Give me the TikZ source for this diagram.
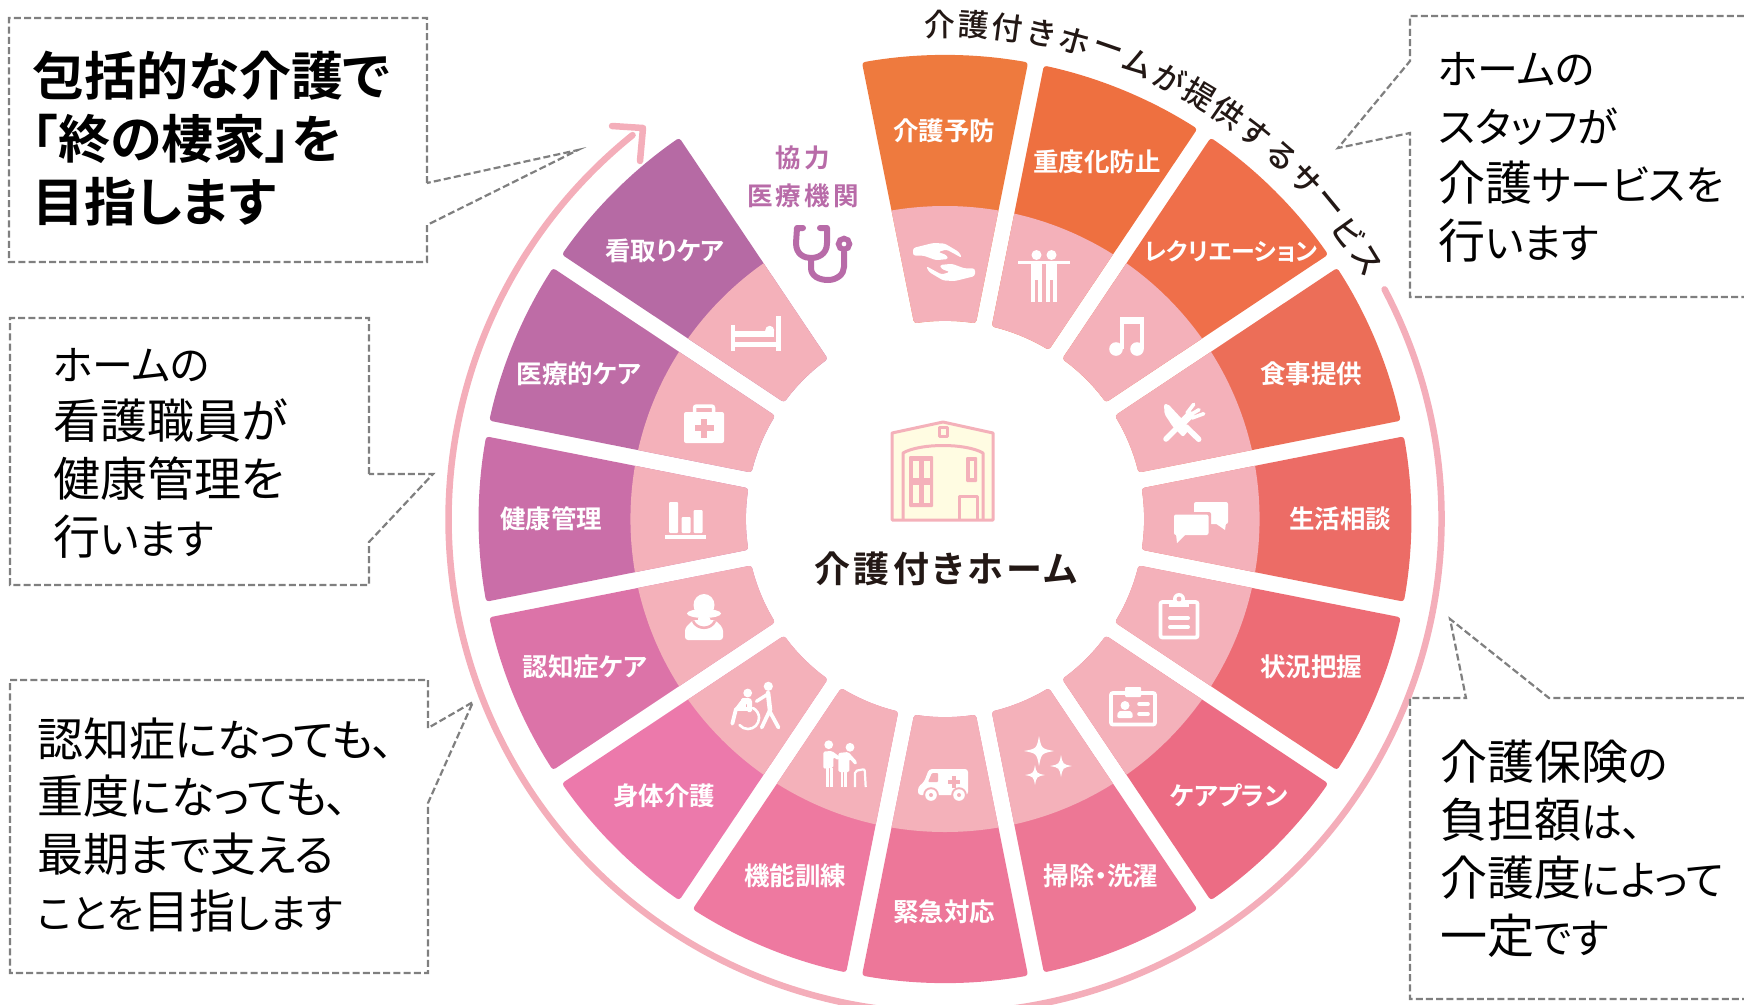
\documentclass[tikz,border=0pt]{standalone}
\usepackage{fontspec}
\setmainfont{Noto Sans CJK JP}
\newfontfamily\cjkpalt[RawFeature=+palt,BoldFont={Noto Sans CJK JP Bold}]{Noto Sans CJK JP}
\newfontfamily\cjkbold[RawFeature=+palt]{Noto Sans CJK JP Bold}
\newfontfamily\cjkmed[RawFeature=+palt]{Noto Sans CJK JP Medium}
\newcommand{\kj}[1]{{\fontsize{47}{58}\selectfont #1}}
\newcommand{\kjs}[1]{{\fontsize{46}{58}\selectfont #1}}
\newcommand{\kn}[1]{{\fontsize{44}{58}\selectfont #1}}
\definecolor{pinkring}{HTML}{F4AEBA}
\definecolor{pinkin}{HTML}{F4B1BA}
\definecolor{cream}{HTML}{FFFCE2}
\definecolor{dashgray}{HTML}{7F7F7F}
\definecolor{inkdark}{HTML}{231815}
\definecolor{purp}{HTML}{B86BA8}
\definecolor{sa}{HTML}{EE7A3E}\definecolor{sb}{HTML}{EE7040}\definecolor{sc}{HTML}{EF6F4A}
\definecolor{sd}{HTML}{EC6E58}\definecolor{se}{HTML}{EC6C66}\definecolor{sf}{HTML}{ED6C75}
\definecolor{sg}{HTML}{EC6C84}\definecolor{sh}{HTML}{ED7795}\definecolor{si}{HTML}{ED7799}
\definecolor{sj}{HTML}{EE79A0}\definecolor{sk}{HTML}{EC79AB}\definecolor{sl}{HTML}{DC73A8}
\definecolor{sm}{HTML}{CA6EA8}\definecolor{sn}{HTML}{BE6CA6}\definecolor{so}{HTML}{B66AA4}
\tikzset{
  callout/.style={draw=dashgray,line width=2.2pt,dash pattern=on 7pt off 3.2pt},
  calltext/.style={anchor=west,align=left,inner sep=0pt,text=black,font=\cjkpalt\fontsize{41}{58}\selectfont},
  seglabel/.style={text=white,inner sep=0pt,font=\cjkbold\fontsize{25.5}{28}\selectfont},
  arcchar/.style={text=inkdark,inner sep=0pt,font=\cjkmed\fontsize{31}{32}\selectfont},
  wl/.style={draw=white,line cap=round,line join=round},
  icon/.style={shift={(#1)},y=1pt},
  bld/.style={draw=pinkin,line width=3pt,line join=round}
}
\newcommand{\sparkstar}[3]{\fill[white] (#1,#2+#3) .. controls (#1+.16*#3,#2+.16*#3) .. (#1+#3,#2) .. controls (#1+.16*#3,#2-.16*#3) .. (#1,#2-#3) .. controls (#1-.16*#3,#2-.16*#3) .. (#1-#3,#2) .. controls (#1-.16*#3,#2+.16*#3) .. cycle;}
\begin{document}
\begin{tikzpicture}[x=1pt,y=-1pt]
\useasboundingbox (0,0) rectangle (1744,1004);
\clip (0,0) rectangle (1744,1004);

% ---- outer arrow ring
\begin{scope}[shift={(945,519)},y=1pt,xscale=1.005]
  \draw[pinkring,line width=6.5pt,line cap=round] (27.7:494) arc[start angle=27.7,end angle=-231,radius=494];
\end{scope}
\coordinate (tipA) at (643,128);
\coordinate (headA) at (612,126);
\coordinate (headB) at (640,161);
\draw[pinkring,line width=6.5pt,line cap=round,line join=round] (headA) -- (tipA) -- (headB);

% ---- wheel segments
\begin{scope}[shift={(945,519)},y=1pt,xscale=1.005]
\pgfmathsetmacro\dO{11.25-asin(8/464)}
\pgfmathsetmacro\dI{11.25-asin(8/198)}
\foreach \a/\c in {90/sa,67.5/sb,45/sc,22.5/sd,0/se,-22.5/sf,-45/sg,-67.5/sh,-90/si,-112.5/sj,-135/sk,-157.5/sl,-180/sm,-202.5/sn,-225/so}{
  \pgfmathsetmacro\aa{\a+\dO}\pgfmathsetmacro\ab{\a-\dO}
  \pgfmathsetmacro\ac{\a-\dI}\pgfmathsetmacro\ad{\a+\dI}
  \def\segpath{[rounded corners=3pt] (\aa:464) arc[start angle=\aa,end angle=\ab,radius=464] -- (\ac:198) arc[start angle=\ac,end angle=\ad,radius=198] -- cycle}
  \fill[\c] \segpath;
  \begin{scope}
    \clip \segpath;
    \fill[pinkin] (0,0) circle[radius=313];
  \end{scope}
}
\end{scope}

% ---- segment labels
\node[seglabel] (l1) at (944,131) {介護予防};
\node[seglabel] (l2) at (1097,162) {重度化防止};
\node[seglabel,font=\cjkbold\fontsize{24}{28}\selectfont] (l3) at (1231,251) {レクリエーション};
\node[seglabel] (l4) at (1311,374) {食事提供};
\node[seglabel] (l5) at (1340,519) {生活相談};
\node[seglabel] (l6) at (1311,667) {状況把握};
\node[seglabel] (l7) at (1229,795) {ケアプラン};
\node[seglabel] (l8) at (1101,876) {掃除・洗濯};
\node[seglabel] (l9) at (944,912) {緊急対応};
\node[seglabel] (l10) at (795,876) {機能訓練};
\node[seglabel] (l11) at (664,796) {身体介護};
\node[seglabel] (l12) at (585,667) {認知症ケア};
\node[seglabel] (l13) at (551,519) {健康管理};
\node[seglabel] (l14) at (579,374) {医療的ケア};
\node[seglabel] (l15) at (665,251) {看取りケア};

% ---- arc title
\begin{scope}[shift={(945,519)},y=1pt]
\foreach \ch [count=\i from 0] in {介,護,付,き,ホ,ー,ム,が,提,供,す,る,サ,ー,ビ,ス}{
  \pgfmathsetmacro\th{90.6-3.94*\i}
  \pgfmathsetmacro\rt{\th-90}
  \node[arcchar,rotate=\rt] (t\i) at (\th:495) {\ch};
}
\end{scope}

% ---- icons
% hands
\begin{scope}[icon={944,262}]
  \foreach \r in {0,180}{
  \begin{scope}[rotate=\r]
  \fill[white,rounded corners=2.5pt] (-31,14) -- (-31,6.4) -- (-20.5,6.4) -- (-8,1.8) -- (4.3,3) -- (2.5,7) -- (-6,10) -- (2.5,12.5) -- (18,4) -- (15,10) -- (0.7,18.5) -- (-11,19) -- cycle;
  \end{scope}}
\end{scope}
% people
\begin{scope}[icon={1044,278}]
  \fill[white] (-7.5,23) circle[radius=5];
  \fill[white] (7.5,23) circle[radius=5];
  \fill[white] (-26,17) rectangle (26,14);
  \fill[white] (-13,15) rectangle (-2,-2);
  \fill[white] (2,15) rectangle (13,-2);
  \fill[white] (-13,-2) rectangle (-8.7,-24);
  \fill[white] (-6.3,-2) rectangle (-2,-24);
  \fill[white] (2,-2) rectangle (6.3,-24);
  \fill[white] (8.7,-2) rectangle (13,-24);
\end{scope}
% music
\begin{scope}[icon={1127,336}]
  \fill[white] (-11,-13) circle[radius=6.8];
  \fill[white] (10,-13) circle[radius=6.8];
  \fill[white] (-7.5,-13) rectangle (-3.5,19);
  \fill[white] (13,-13) rectangle (17,19);
  \fill[white] (-7.5,19) rectangle (17,12);
\end{scope}
% cutlery
\begin{scope}[icon={1184,422}]
  \fill[white,rounded corners=2pt] (-20,18) -- (-16,18) -- (0.7,0) -- (5,-8) -- (-1,-15) -- (-11,-5) -- (-19.5,8) -- cycle;
  \draw[wl,line width=5.5pt] (2.3,-5) -- (14.7,-17.3);
  \draw[wl,line width=5.5pt] (-18,-17) -- (-1,0);
  \draw[wl,line width=8pt] (-1,0) -- (6,7);
  \draw[wl,line width=3.6pt] (3,9) -- (9.7,17.7) (6,7) -- (15,12.3) (8,4) -- (19.7,8.3);
\end{scope}
% chat
\begin{scope}[icon={1201,520}]
  \fill[white,rounded corners=2pt] (-7,18) rectangle (27,-4);
  \fill[white] (14,-3) -- (24,-10) -- (25,-3) -- cycle;
  \fill[pinkin,rounded corners=2pt] (-30,8) rectangle (10,-18);
  \fill[white,rounded corners=2pt] (-27,5.5) rectangle (7.5,-15);
  \fill[white] (-25,-14) -- (-24,-23) -- (-15,-14) -- cycle;
\end{scope}
% clipboard
\begin{scope}[icon={1179,617}]
  \draw[white,line width=3.8pt,rounded corners=2pt] (-18.5,15) rectangle (18.5,-20.5);
  \fill[white] (-10,17) rectangle (10,10);
  \fill[white] (0,18) circle[radius=6];
  \fill[pinkin] (0,18) circle[radius=2.4];
  \draw[wl,line width=4pt] (-9,-1) -- (9,-1) (-9,-10) -- (9,-10);
\end{scope}
% id card
\begin{scope}[icon={1133,707}]
  \draw[white,line width=3.8pt,rounded corners=2pt] (-22,14) rectangle (22,-17.5);
  \fill[white,rounded corners=1pt] (-8,20) rectangle (8,10);
  \fill[white] (-8,1.5) circle[radius=4.5];
  \fill[white,rounded corners=2pt] (-16,-11) -- (-15,-4) -- (-1,-4) -- (0,-11) -- cycle;
  \draw[wl,line width=3.6pt] (6,3) -- (15,3) (6,-7) -- (15,-7);
\end{scope}
% sparkles
\begin{scope}[icon={1048,761}]
  \sparkstar{-9}{10}{15}
  \sparkstar{13}{-5}{11}
  \sparkstar{-13}{-14}{10}
\end{scope}
% ambulance
\begin{scope}[icon={944,784}]
  \fill[white,rounded corners=3pt] (-26,-11) -- (-26,-3) -- (-20,2) -- (-15,15) -- (24,15) -- (24,-11) -- cycle;
  \fill[pinkin,rounded corners=1pt] (-16,2) -- (-12,11) -- (-6,11) -- (-6,2) -- cycle;
  \fill[pinkin] (4,0) rectangle (16,4);
  \fill[pinkin] (8,-4) rectangle (12,8);
  \foreach \wx in {-13,15}{
    \fill[pinkin] (\wx,-11) circle[radius=7.8];
    \fill[white] (\wx,-11) circle[radius=5.8];
    \fill[pinkin] (\wx,-11) circle[radius=2];
  }
\end{scope}
% walker pair
\begin{scope}[icon={844,764}]
  \fill[white] (-15.3,19.3) circle[radius=4.4];
  \fill[white] (6,16.7) circle[radius=4.4];
  \fill[white,rounded corners=1.5pt] (-20.7,12.5) -- (-12,13) -- (-4,7) -- (-5.7,3.7) -- (-10.7,7) -- (-10.7,-3.7) -- (-20.7,-4.7) -- cycle;
  \fill[white] (-18.5,-4) rectangle (-15.2,-23);
  \fill[white] (-14.2,-4) rectangle (-11,-23);
  \fill[white,rounded corners=1.5pt] (-5.7,11) -- (4.3,12) -- (13.3,2) -- (11.7,-1.3) -- (5.3,5.3) -- (5.3,-8) -- (-5.7,-8) -- cycle;
  \fill[white] (-3.5,-8) rectangle (-0.7,-23);
  \fill[white] (0,-8) rectangle (2.7,-23);
  \draw[white,line width=2.2pt,rounded corners=2pt] (11,-23) -- (11,-7) -- (20.7,-5) -- (21.7,-23);
\end{scope}
% wheelchair
\begin{scope}[icon={755,706}]
  \fill[white] (-7.3,13) circle[radius=4.4];
  \fill[white] (13.3,19.7) circle[radius=4.6];
  \draw[wl,line width=2.6pt] (4,-12) arc[start angle=0,end angle=-140,radius=11];
  \draw[wl,line width=2.6pt] (-2,-2) arc[start angle=62,end angle=0,radius=11.5];
  \fill[white,rounded corners=1.5pt] (-14,8) -- (-5,8) -- (-3,6) -- (-3,-6) -- (-8,-6) -- (-8,3) -- (-14,3) -- cycle;
  \draw[wl,line width=3.8pt] (-22.7,-17.7) -- (-19,-3) -- (-6,-3);
  \draw[wl,line width=1pt,fill=white] (-20,-3) -- (-14,5) -- (-9,5) -- (-10,-3) -- cycle;
  \draw[wl,line width=4.6pt] (13,13) -- (15,-4);
  \draw[wl,line width=3.4pt] (13,12) -- (1.5,4.7);
  \draw[wl,line width=3.8pt] (14.5,-5) -- (6.7,-21.5) (14.5,-5) -- (23.5,-21.5);
\end{scope}
% woman
\begin{scope}[icon={704,617}]
  \fill[white] (0,12) ellipse[x radius=10.5,y radius=11];
  \fill[white] (0,3.5) ellipse[x radius=17,y radius=4.5];
  \fill[white,rounded corners=3pt] (-19,-23) -- (-19,-11) -- (-11,-3) -- (11,-3) -- (19,-11) -- (19,-23) -- cycle;
  \draw[pinkin,line width=2.6pt] (-11,-4) .. controls (-7,-13) and (7,-13) .. (11,-4);
  \fill[white] (0,-3) ellipse[x radius=6.5,y radius=4];
  \fill[pinkin] (-10,-1) rectangle (-6.5,-3.2);
  \fill[pinkin] (6.5,-1) rectangle (10,-3.2);
\end{scope}
% chart
\begin{scope}[icon={685,520}]
  \fill[white,rounded corners=1pt] (-16,18) rectangle (-7,-13);
  \fill[white,rounded corners=1pt] (-3.5,3) rectangle (5.5,-13);
  \fill[white,rounded corners=1pt] (8.5,10) rectangle (17.5,-13);
  \fill[white] (-20.5,-15) rectangle (20.5,-18.5);
\end{scope}
% medkit
\begin{scope}[icon={704,423}]
  \fill[white,rounded corners=2pt] (-20,11) rectangle (20,-20);
  \draw[white,line width=3.5pt,rounded corners=2pt] (-9.5,11) -- (-9.5,17) -- (9.5,17) -- (9.5,11);
  \fill[pinkin] (-9.5,-2) rectangle (9.5,-8);
  \fill[pinkin] (-3,-14.5) rectangle (3,4.5);
\end{scope}
% bed
\begin{scope}[icon={756,334}]
  \fill[white] (-25,9) rectangle (-20.6,-17);
  \fill[white] (20,18) rectangle (25,-17);
  \fill[white] (-25,-8.3) rectangle (25,-13);
  \fill[white] (-20.6,3.2) rectangle (18,-3);
  \fill[white] (13.7,3.7) circle[radius=4.5];
\end{scope}
% stethoscope
\begin{scope}[icon={823,253}]
  \draw[purp,line width=6pt,line cap=round,line join=round]
    (-20,25) -- (-26,25) -- (-27,10) .. controls (-27,-2) and (-18,-5) .. (-12,-5) .. controls (-6,-5) and (4,-2) .. (4,10) -- (4,25) -- (-3,25);
  \draw[purp,line width=6pt,line cap=round] (-12,-5) -- (-12,-15) .. controls (-12,-23) and (-4,-27) .. (5,-27) .. controls (14,-27) and (21,-21) .. (21,-14) -- (21,1);
  \draw[purp,line width=5.5pt,fill=white] (21,9) circle[radius=5.5];
\end{scope}

\node[text=purp,inner sep=0pt,font=\cjkbold\addfontfeature{LetterSpace=12}\fontsize{25.5}{28}\selectfont] (coop1) at (803,158) {協力};
\node[text=purp,inner sep=0pt,font=\cjkbold\addfontfeature{LetterSpace=12}\fontsize{25.5}{28}\selectfont] (coop2) at (803,196) {医療機関};

% ---- building
\path[bld,fill=cream] (892,520) -- (892,433) -- (943,422) -- (993,433) -- (993,520) -- cycle;
\draw[bld] (903,520) -- (903,453) .. controls (920,443) and (966,443) .. (983,453) -- (983,520);
\draw[bld] (939,427) rectangle (947,436);
\fill[pinkin,rounded corners=1pt] (909,456) rectangle (933,507);
\fill[cream] (913,460.5) rectangle (919,478);
\fill[cream] (923.5,460.5) rectangle (929.5,478);
\fill[cream] (913,485) rectangle (919,503);
\fill[cream] (923.5,485) rectangle (929.5,503);
\fill[pinkin,rounded corners=1pt] (966,457) rectangle (977,482);
\fill[cream] (969.5,460.5) rectangle (973.5,478);
\draw[bld] (959,520) -- (959,496) -- (977,496) -- (977,520);
\node[text=inkdark,inner sep=0pt,font=\cjkbold\addfontfeature{LetterSpace=10}\fontsize{36}{38}\selectfont] (hub) at (946,569) {介護付きホーム};

% ---- callouts
\draw[callout] (427,183) -- (427,18) -- (9,18) -- (9,262) -- (427,262) -- (427,225) -- (578,150) -- cycle;
\node[calltext,font=\cjkpalt\bfseries\fontsize{52}{63}\selectfont] (c1) at (32,139) {包括的な介護で\\「終の棲家」を\\目指します};

\draw[callout] (1744,16) -- (1410,16) -- (1410,61) -- (1338,148) -- (1410,133) -- (1410,297) -- (1744,297);
\node[calltext] (c2) at (1438,157) {ホームの\\スタッフが\\\kj{介護}サービスを\\\kj{行}います};

\draw[callout] (369,474) -- (369,318) -- (10,318) -- (10,585) -- (369,585) -- (369,542) -- (433,474) -- cycle;
\node[calltext] (c3) at (53,453) {ホームの\\\kj{看護職員が}\\\kj{健康管理を}\\\kj{行}います};

\draw[callout] (428,728) -- (428,680) -- (10,680) -- (10,973) -- (428,973) -- (428,803) -- (473,702) -- cycle;
\node[calltext,font=\cjkpalt\fontsize{40}{57.5}\selectfont] (c4) at (37,825) {\kjs{認知症}\kn{になっても、}\\\kjs{重度}\kn{になっても、}\\\kjs{最期}\kn{まで}\kjs{支}\kn{える}\\ことを\kjs{目指}します};

\draw[callout] (1744,698) -- (1549,698) -- (1450,619) -- (1466,698) -- (1410,698) -- (1410,999) -- (1744,999);
\node[calltext] (c5) at (1440,849) {\kj{介護保険}の\\\kj{負担額}は、\\\kj{介護度}によって\\\kj{一定}です};
\end{tikzpicture}
\end{document}
